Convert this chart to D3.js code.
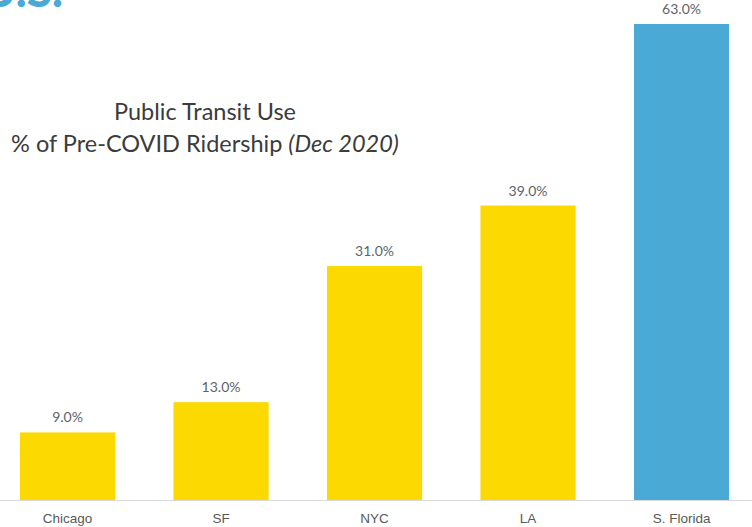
<!DOCTYPE html>
<html>
<head>
<meta charset="utf-8">
<script src="https://cdn.jsdelivr.net/npm/d3@7"></script>
<style>
  html, body { margin: 0; padding: 0; background: #fff; }
  svg { display: block; }
</style>
</head>
<body>
<svg id="chart" width="752" height="527"></svg>
<script>
// Transit ridership in December 2020 as a share of pre-COVID levels
const cities = ["Chicago", "SF", "NYC", "LA", "S. Florida"];
const ridership = [9, 13, 31, 39, 63];
const highlight = ["S. Florida"];

const W = 752, H = 527;
const baseY = 500.5;
const svg = d3.select("#chart");

const x = d3.scaleBand()
  .domain(cities)
  .range([-9.2, 758.3])
  .paddingInner(0.38)
  .paddingOuter(0.19);

const y = d3.scaleLinear()
  .domain([0, 63])
  .range([baseY, 24]);

// headline fragment running off the top edge
svg.append("text")
  .attr("x", 63)
  .attr("y", 7)
  .attr("text-anchor", "end")
  .attr("font-family", "Lato, sans-serif")
  .attr("font-weight", 900)
  .attr("font-size", 46)
  .attr("fill", "#4aa9d5")
  .text("U.S.");

// title
const title = svg.append("g")
  .attr("font-family", "Lato, sans-serif")
  .attr("fill", "#3b3b3b")
  .attr("text-anchor", "middle");
title.append("text")
  .attr("x", 205).attr("y", 120)
  .attr("font-size", 23.5)
  .text("Public Transit Use");
const t2 = title.append("text")
  .attr("x", 205).attr("y", 152)
  .attr("font-size", 23.5);
t2.append("tspan").text("% of Pre-COVID Ridership ");
t2.append("tspan").attr("font-style", "italic").text("(Dec 2020)");

// bars
svg.append("g").selectAll("rect")
  .data(cities)
  .join("rect")
  .attr("x", d => x(d))
  .attr("width", x.bandwidth())
  .attr("y", (d, i) => y(ridership[i]))
  .attr("height", (d, i) => baseY - y(ridership[i]))
  .attr("fill", d => highlight.includes(d) ? "#4aa9d5" : "#fcd900");

// value labels
svg.append("g").selectAll("text")
  .data(cities)
  .join("text")
  .attr("x", d => x(d) + x.bandwidth() / 2)
  .attr("y", (d, i) => y(ridership[i]) - 10)
  .attr("text-anchor", "middle")
  .attr("font-family", "Lato, sans-serif")
  .attr("font-size", 14)
  .attr("fill", "#5f6368")
  .text((d, i) => d3.format(".1f")(ridership[i]) + "%");

// category axis
const axis = svg.append("g")
  .attr("transform", `translate(0,${baseY})`)
  .call(d3.axisBottom(x).tickSize(0).tickPadding(12.5));
axis.select(".domain").remove();
axis.append("line")
  .attr("x1", 0).attr("x2", W)
  .attr("stroke", "#d9d9d9");
axis.selectAll(".tick text")
  .attr("font-family", "'Liberation Sans', Arial, sans-serif")
  .attr("font-size", 13.5)
  .attr("fill", "#595959");
</script>
</body>
</html>
